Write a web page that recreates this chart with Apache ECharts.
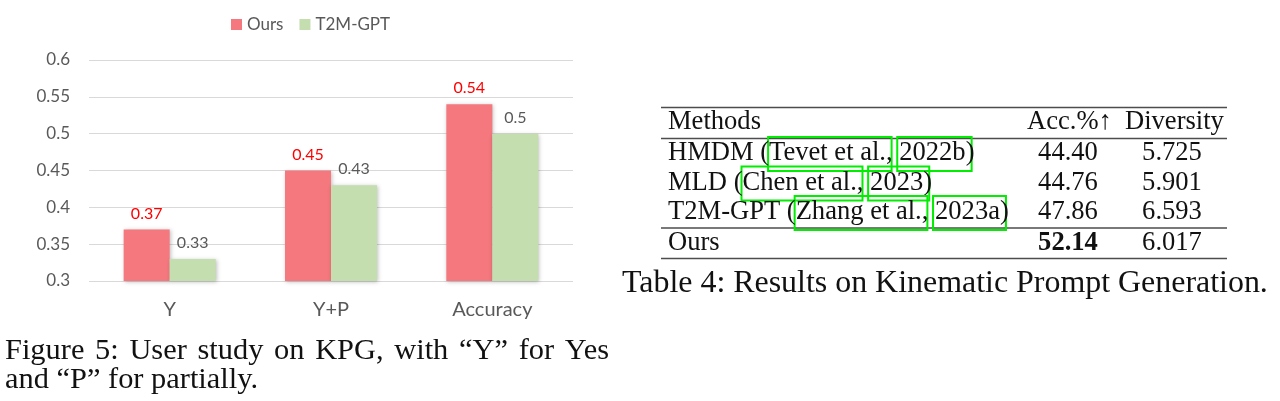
<!DOCTYPE html>
<html>
<head>
<meta charset="utf-8">
<script src="https://cdn.jsdelivr.net/npm/echarts@6/dist/echarts.min.js"></script>
<style>
html,body{margin:0;padding:0;background:#ffffff;}
#chart{width:1280px;height:401px;}
</style>
</head>
<body>
<div id="chart"></div>
<script>
// ---- chart data ----
const categories = ['Y', 'Y+P', 'Accuracy'];
const seriesNames = ['Ours', 'T2M-GPT'];
const oursValues = [0.37, 0.45, 0.54];
const t2mValues = [0.33, 0.43, 0.50];
const yMin = 0.3, yMax = 0.6, yStep = 0.05;

// ---- table data ----
const tableHeader = ['Methods', 'Acc.%↑', 'Diversity'];
const tableMethods = ['HMDM', 'MLD', 'T2M-GPT', 'Ours'];
const tableCiteAuthors = ['Tevet et al.,', 'Chen et al.,', 'Zhang et al.,', ''];
const tableCiteYears = ['2022b', '2023', '2023a', ''];
const tableAcc = ['44.40', '44.76', '47.86', '52.14'];
const tableDiversity = ['5.725', '5.901', '6.593', '6.017'];
const tableBestAccRow = 3;

// ---- captions ----
const figureCaptionLine1 = 'Figure 5: User study on KPG, with “Y” for Yes';
const figureCaptionLine2 = 'and “P” for partially.';
const tableCaption = 'Table 4: Results on Kinematic Prompt Generation.';

// ---- text measuring helper ----
const mctx = document.createElement('canvas').getContext('2d');
function tw(text, font) { mctx.font = font; return mctx.measureText(text).width; }
const SERIF = '"Liberation Serif", "Times New Roman", serif';
function fitSize(text, target, weight) {
  const w = tw(text, (weight || '') + ' 100px ' + SERIF);
  return 100 * target / w;
}

const graphics = [];
function addText(text, x, baseline, size, opts) {
  opts = opts || {};
  graphics.push({
    type: 'text', silent: true,
    style: {
      text: text, x: x, y: baseline - size * 0.26,
      font: (opts.weight || 'normal') + ' ' + size.toFixed(2) + 'px ' + SERIF,
      fill: '#111', align: opts.align || 'left', verticalAlign: 'middle'
    }
  });
}
function addLine(x1, x2, y) {
  graphics.push({
    type: 'line', silent: true,
    shape: { x1: x1, y1: y, x2: x2, y2: y },
    style: { stroke: '#4d4d4d', lineWidth: 1.6 }
  });
}
function addBox(x1, x2, y1, y2) {
  graphics.push({
    type: 'rect', silent: true,
    shape: { x: x1, y: y1, width: x2 - x1, height: y2 - y1 },
    style: { fill: 'none', stroke: '#00ee00', lineWidth: 2 }
  });
}

// figure caption
const capSize = fitSize(figureCaptionLine2, 253);
const capFont = capSize + 'px ' + SERIF;
(function () {
  const words = figureCaptionLine1.split(' ');
  const widths = words.map(w => tw(w, capFont));
  const total = widths.reduce((a, b) => a + b, 0);
  const left = 5, right = 609;
  const gap = (right - left - total) / (words.length - 1);
  let x = left;
  words.forEach((w, i) => { addText(w, x, 359, capSize); x += widths[i] + gap; });
  addText(figureCaptionLine2, left, 388, capSize);
})();

// table
const tSize = fitSize(tableHeader[0], 93);
const tFont = tSize + 'px ' + SERIF;
const tLeft = 668, accCenter = 1068, divCenter = 1172;
addLine(661, 1227, 107.5);
addLine(661, 1227, 138.5);
addLine(661, 1227, 228);
addLine(661, 1227, 258.5);
addText(tableHeader[0], tLeft, 129, tSize);
addText(tableHeader[1], 1027, 129, tSize);
addText(tableHeader[2], 1125, 129, tSize);
const rowBaselines = [160, 189.5, 219, 250];
tableMethods.forEach((m, i) => {
  const b = rowBaselines[i];
  let text = m;
  if (tableCiteAuthors[i]) {
    const pre = m + ' (';
    const auth = tableCiteAuthors[i];
    const yr = tableCiteYears[i];
    text = pre + auth + ' ' + yr + ')';
    const xa = tLeft + tw(pre, tFont);
    const xae = tLeft + tw(pre + auth, tFont);
    const xy = tLeft + tw(pre + auth + ' ', tFont);
    const xye = tLeft + tw(pre + auth + ' ' + yr, tFont);
    addBox(xa - 1, xae - 1, b - 23, b + 11);
    addBox(xy - 2, xye + 6, b - 23, b + 11);
  }
  addText(text, tLeft, b, tSize);
  addText(tableAcc[i], accCenter, b, tSize, { align: 'center', weight: i === tableBestAccRow ? 'bold' : 'normal' });
  addText(tableDiversity[i], divCenter, b, tSize, { align: 'center' });
});
const tcSize = fitSize(tableCaption, 646);
addText(tableCaption, 622, 292, tcSize);

// ---- chart ----
const SANS = 'Lato, "Open Sans", sans-serif';
const GRAY = '#595959';
const chart = echarts.init(document.getElementById('chart'), null, { renderer: 'canvas' });
chart.setOption({
  animation: false,
  backgroundColor: '#ffffff',
  legend: {
    data: seriesNames,
    left: 226, top: 11,
    icon: 'rect', itemWidth: 11, itemHeight: 11, itemGap: 16,
    textStyle: { fontFamily: SANS, fontSize: 17, color: GRAY }
  },
  grid: { left: 89, right: 707, top: 60, bottom: 120, containLabel: false },
  xAxis: {
    type: 'category', data: categories,
    axisLine: { show: false }, axisTick: { show: false },
    axisLabel: { margin: 19, fontFamily: SANS, fontSize: 20, color: GRAY }
  },
  yAxis: {
    type: 'value', min: yMin, max: yMax, interval: yStep,
    axisLine: { show: false }, axisTick: { show: false },
    axisLabel: { margin: 19, fontFamily: SANS, fontSize: 17, color: GRAY },
    splitLine: { lineStyle: { color: '#d9d9d9', width: 1 } }
  },
  series: [
    {
      name: seriesNames[0], type: 'bar', data: oursValues,
      barWidth: 46, barGap: '0%',
      itemStyle: { color: '#f4787d', shadowBlur: 4, shadowColor: 'rgba(0,0,0,0.25)', shadowOffsetX: 1, shadowOffsetY: 1 },
      label: { show: true, position: 'top', distance: 8, fontFamily: SANS, fontSize: 16, color: '#ff0000' }
    },
    {
      name: seriesNames[1], type: 'bar', data: t2mValues,
      barWidth: 46,
      itemStyle: { color: '#c4deb0', shadowBlur: 4, shadowColor: 'rgba(0,0,0,0.25)', shadowOffsetX: 1, shadowOffsetY: 1 },
      label: { show: true, position: 'top', distance: 8, fontFamily: SANS, fontSize: 16, color: GRAY }
    }
  ],
  graphic: graphics
});
</script>
</body>
</html>
